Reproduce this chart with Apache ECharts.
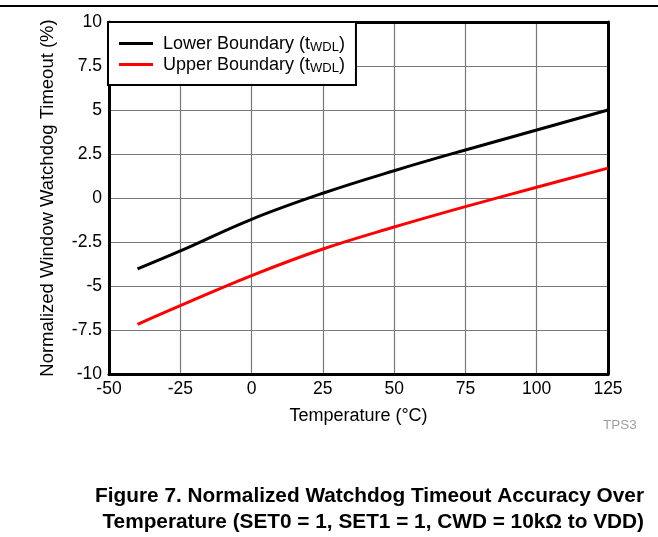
<!DOCTYPE html>
<html>
<head>
<meta charset="utf-8">
<script src="https://cdn.jsdelivr.net/npm/echarts@6/dist/echarts.min.js"></script>
<style>
html,body{margin:0;padding:0;background:#fff;}
#chart{width:658px;height:537px;}
</style>
</head>
<body>
<div id="chart"></div>
<script>
const temperatures = [-40, -25, 0, 25, 50, 75, 100, 125];
const lowerBoundary = [-4.03, -3.01, -1.21, 0.27, 1.55, 2.73, 3.86, 5.0];
const upperBoundary = [-7.18, -6.12, -4.41, -2.9, -1.65, -0.49, 0.61, 1.7];
const xTicks = [-50, -25, 0, 25, 50, 75, 100, 125];
const yTicks = [-10, -7.5, -5, -2.5, 0, 2.5, 5, 7.5, 10];

const font = '"Liberation Sans", Arial, sans-serif';
const chart = echarts.init(document.getElementById('chart'));

const pair = (xs, ys) => xs.map((x, i) => [x, ys[i]]);
const frameAxis = { show: true, onZero: false, lineStyle: { color: '#000', width: 3 } };

chart.setOption({
  animation: false,
  backgroundColor: '#fff',
  textStyle: { fontFamily: font },
  grid: { left: 109, right: 50, top: 22, bottom: 163, containLabel: false },
  legend: {
    left: 108, top: 22,
    orient: 'vertical',
    itemWidth: 34, itemHeight: 3, itemGap: 0,
    padding: [11, 11, 10, 11],
    borderColor: '#000', borderWidth: 2, backgroundColor: '#fff',
    icon: 'rect',
    z: 10,
    textStyle: {
      fontFamily: font, fontSize: 18, color: '#000', lineHeight: 21,
      rich: {
        sub: { fontFamily: font, fontSize: 13, color: '#000', verticalAlign: 'bottom', lineHeight: 21, padding: [7, 0, 0, 0] },
        n: { fontFamily: font, fontSize: 18, color: '#000', lineHeight: 21, padding: [2, 0, 0, 0] },
        f: { fontFamily: font, fontSize: 18, color: '#000', lineHeight: 21, padding: [2, 0, 0, 5] }
      }
    },
    formatter: function (name) {
      const base = name.replace(' (tWDL)', '');
      return '{f|' + base + ' (t}{sub|WDL}{n|)}';
    },
    data: ['Lower Boundary (tWDL)', 'Upper Boundary (tWDL)']
  },
  xAxis: [{
    type: 'value', min: xTicks[0], max: xTicks[xTicks.length - 1], interval: 25,
    name: 'Temperature (°C)', nameLocation: 'middle', nameGap: 33,
    nameTextStyle: { fontFamily: font, fontSize: 18, color: '#000' },
    axisLine: frameAxis,
    axisTick: { show: false },
    axisLabel: { fontFamily: font, fontSize: 17.5, color: '#000', margin: 6 },
    splitLine: { show: true, lineStyle: { color: '#787878', width: 1.2 } }
  }, {
    type: 'value', position: 'top', min: xTicks[0], max: xTicks[xTicks.length - 1], interval: 25,
    axisLine: frameAxis, axisTick: { show: false }, axisLabel: { show: false }, splitLine: { show: false }
  }],
  yAxis: [{
    type: 'value', min: yTicks[0], max: yTicks[yTicks.length - 1], interval: 2.5,
    name: 'Normalized Window Watchdog Timeout (%)', nameLocation: 'middle', nameGap: 52,
    nameRotate: 90,
    nameTextStyle: { fontFamily: font, fontSize: 18.5, color: '#000' },
    axisLine: frameAxis,
    axisTick: { show: false },
    axisLabel: { fontFamily: font, fontSize: 17.5, color: '#000', margin: 7 },
    splitLine: { show: true, lineStyle: { color: '#787878', width: 1.2 } }
  }, {
    type: 'value', position: 'right', min: yTicks[0], max: yTicks[yTicks.length - 1], interval: 2.5,
    axisLine: frameAxis, axisTick: { show: false }, axisLabel: { show: false }, splitLine: { show: false }
  }],
  series: [
    {
      name: 'Lower Boundary (tWDL)', type: 'line', data: pair(temperatures, lowerBoundary),
      smooth: 0.4, showSymbol: false, color: '#000',
      lineStyle: { color: '#000', width: 3 }
    },
    {
      name: 'Upper Boundary (tWDL)', type: 'line', data: pair(temperatures, upperBoundary),
      smooth: 0.4, showSymbol: false, color: '#ff0000',
      lineStyle: { color: '#ff0000', width: 3 }
    }
  ],
  graphic: [
    { type: 'line', shape: { x1: 0, y1: 6, x2: 658, y2: 6 }, style: { stroke: '#000', lineWidth: 2 } },
    { type: 'text', x: 603, y: 418, style: { text: 'TPS3', font: '13.5px ' + font, fill: '#a0a0a0' } },
    { type: 'text', x: 644, y: 483, style: {
        text: 'Figure 7. Normalized Watchdog Timeout Accuracy Over\nTemperature (SET0 = 1, SET1 = 1, CWD = 10kΩ to VDD)',
        font: 'bold 20.8px ' + font, fill: '#000', align: 'right', verticalAlign: 'top', lineHeight: 26 } }
  ]
});
</script>
</body>
</html>
